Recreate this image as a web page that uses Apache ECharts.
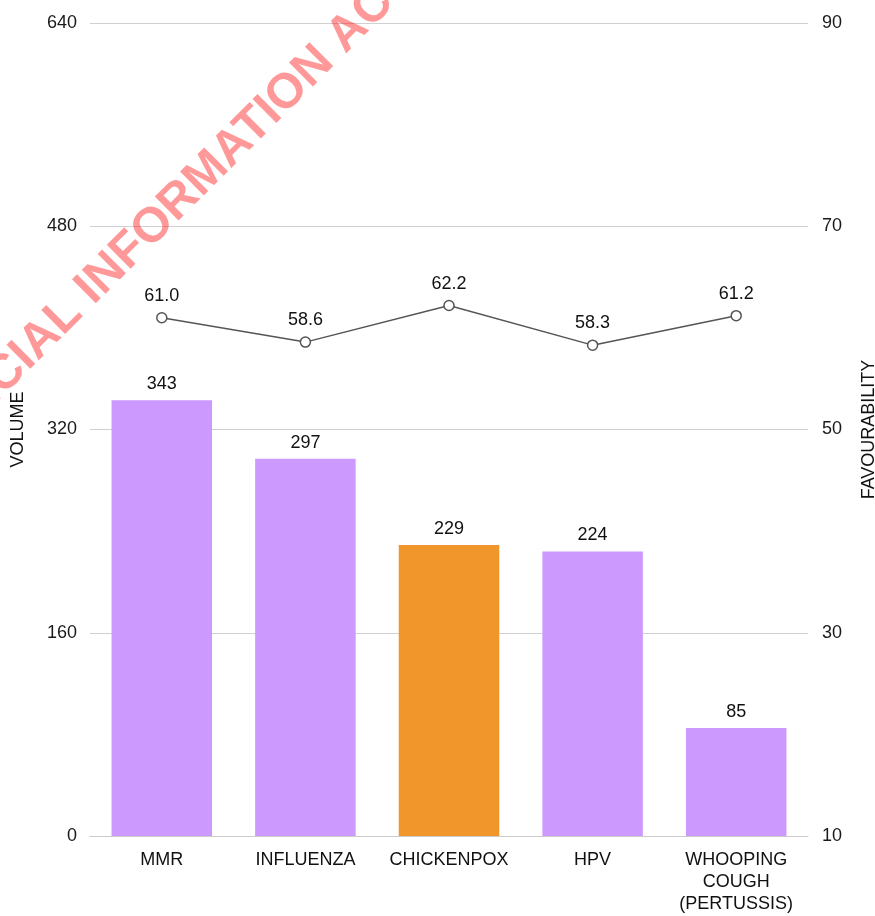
<!DOCTYPE html>
<html>
<head>
<meta charset="utf-8">
<script src="https://cdn.jsdelivr.net/npm/echarts@6/dist/echarts.min.js"></script>
<style>
  html, body { margin: 0; padding: 0; background: #fff; }
  #chart { width: 875px; height: 916px; }
</style>
</head>
<body>
<div id="chart"></div>
<script>
// Vaccine topics: mention volume (bars, left axis) and favourability (line, right axis)
const categories = ['MMR', 'INFLUENZA', 'CHICKENPOX', 'HPV', 'WHOOPING\nCOUGH\n(PERTUSSIS)'];
const volume = [343, 297, 229, 224, 85];
const favourability = [61.0, 58.6, 62.2, 58.3, 61.2];
const highlightIndex = 2;

const volumeTicks = { min: 0, max: 640, interval: 160 };
const favourTicks = { min: 10, max: 90, interval: 20 };

const FONT = '"Liberation Sans", Arial, sans-serif';
const PURPLE = '#cc99ff';
const ORANGE = '#f0962a';
const STAMP = 'rgba(255,0,0,0.4)';

const chart = echarts.init(document.getElementById('chart'), null, { renderer: 'canvas' });

const axisText = { color: '#1a1a1a', fontSize: 18, fontFamily: FONT };
const nameText = { color: '#111', fontSize: 18, fontFamily: FONT };

chart.setOption({
  animation: false,
  backgroundColor: '#fff',
  grid: { left: 90, right: 67, top: 23, bottom: 80, outerBoundsMode: 'none', containLabel: false },
  xAxis: {
    type: 'category',
    data: categories,
    axisLine: { lineStyle: { color: '#cccccc', width: 1 } },
    axisTick: { show: false },
    axisLabel: { color: '#111', fontSize: 18, fontFamily: FONT, lineHeight: 22, margin: 13, interval: 0 }
  },
  yAxis: [
    {
      type: 'value',
      min: volumeTicks.min, max: volumeTicks.max, interval: volumeTicks.interval,
      name: 'VOLUME', nameLocation: 'middle', nameRotate: 90, nameGap: 63,
      nameTextStyle: nameText,
      axisLine: { show: false }, axisTick: { show: false },
      axisLabel: Object.assign({ margin: 13 }, axisText),
      splitLine: { lineStyle: { color: '#d0d0d0', width: 1 } }
    },
    {
      type: 'value',
      min: favourTicks.min, max: favourTicks.max, interval: favourTicks.interval,
      name: 'FAVOURABILITY', nameLocation: 'middle', nameRotate: 90, nameGap: 52,
      nameTextStyle: nameText,
      axisLine: { show: false }, axisTick: { show: false },
      axisLabel: Object.assign({ margin: 14 }, axisText),
      splitLine: { show: false }
    }
  ],
  series: [
    {
      type: 'bar',
      yAxisIndex: 0,
      barCategoryGap: '30%',
      data: volume.map((v, i) => ({ value: v, itemStyle: { color: i === highlightIndex ? ORANGE : PURPLE } })),
      label: { show: true, position: 'top', distance: 7, color: '#111', fontSize: 18, fontFamily: FONT }
    },
    {
      type: 'line',
      yAxisIndex: 1,
      data: favourability,
      symbol: 'circle',
      symbolSize: 10,
      lineStyle: { color: '#555', width: 1.5 },
      itemStyle: { color: '#fff', borderColor: '#555', borderWidth: 1.5 },
      label: { show: true, position: 'top', distance: 7, color: '#111', fontSize: 18, fontFamily: FONT,
               formatter: p => p.value.toFixed(1) },
      z: 5
    }
  ],
  // diagonal release stamp across the upper-left corner
  graphic: [
    {
      type: 'text', x: 84, y: 296, rotation: 0.785, z: 100,
      style: { text: 'RELEASED UNDER THE OFFICIAL ', align: 'right', verticalAlign: 'middle',
               font: 'bold 49px ' + FONT, fill: STAMP }
    },
    {
      type: 'text', x: 84, y: 296, rotation: 0.785, z: 100,
      style: { text: 'INFORMATION ACT', align: 'left', verticalAlign: 'middle',
               font: 'bold 49px ' + FONT, fill: STAMP }
    }
  ]
});
</script>
</body>
</html>
